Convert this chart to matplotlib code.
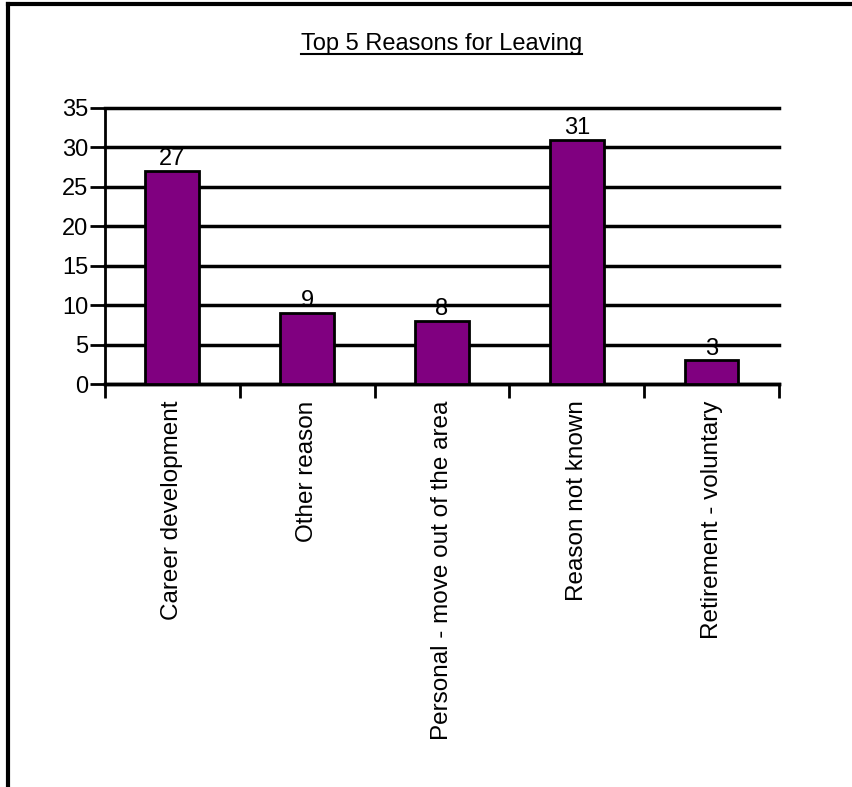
import matplotlib
matplotlib.use("Agg")
import matplotlib.pyplot as plt
from matplotlib.lines import Line2D
import numpy as np

categories = ["Career development", "Other reason", "Personal - move out of the area",
              "Reason not known", "Retirement - voluntary"]
values = [27, 9, 8, 31, 3]
yticks = [0, 5, 10, 15, 20, 25, 30, 35]

plt.rcParams['font.family'] = ['Liberation Sans', 'DejaVu Sans']

fig = plt.figure(figsize=(8.52, 7.87), dpi=100)
ax = fig.add_axes([0.1232, 0.512, 0.791, 0.3508])

x = np.arange(len(values))
ax.bar(x, values, width=0.4, color="#800080", edgecolor="black", linewidth=2, zorder=3)
for xi, v in zip(x, values):
    ax.text(xi, v + 0.1, str(v), ha="center", va="bottom", fontsize=17)

ax.set_xlim(-0.5, len(values) - 0.5)
ax.set_ylim(0, 35)
ax.set_yticks(yticks)
ax.set_yticklabels([str(t) for t in yticks], fontsize=17)
ax.tick_params(axis="y", length=11, width=2, pad=1)
ax.set_xticks(list(x - 0.5) + [len(values) - 0.5])
ax.set_xticklabels([])
ax.tick_params(axis="x", length=10, width=2)
for xi, c in zip(x, categories):
    ax.text(xi, -0.06, c, rotation=90, ha="center", va="top", fontsize=17.5,
            transform=ax.get_xaxis_transform())

ax.grid(axis="y", color="black", linewidth=2.5, zorder=1)
for gl in ax.get_ygridlines():
    gl.set_clip_on(False)
for s in ["top", "right"]:
    ax.spines[s].set_visible(False)
ax.spines["left"].set_linewidth(2)
ax.spines["bottom"].set_linewidth(2.5)

title = fig.text(0.518, 0.9365, "Top 5 Reasons for Leaving", ha="center", va="baseline", fontsize=17)
fig.canvas.draw()
bb = title.get_window_extent().transformed(fig.transFigure.inverted())
fig.add_artist(Line2D([bb.x0, bb.x1], [0.9315, 0.9315], color="black", linewidth=1.5))

# frame
fig.add_artist(Line2D([0.0094, 0.0094], [0, 0.995], color="black", linewidth=3))
fig.add_artist(Line2D([0.0094, 1.0], [0.995, 0.995], color="black", linewidth=3))

fig.savefig("out.png", dpi=100)
